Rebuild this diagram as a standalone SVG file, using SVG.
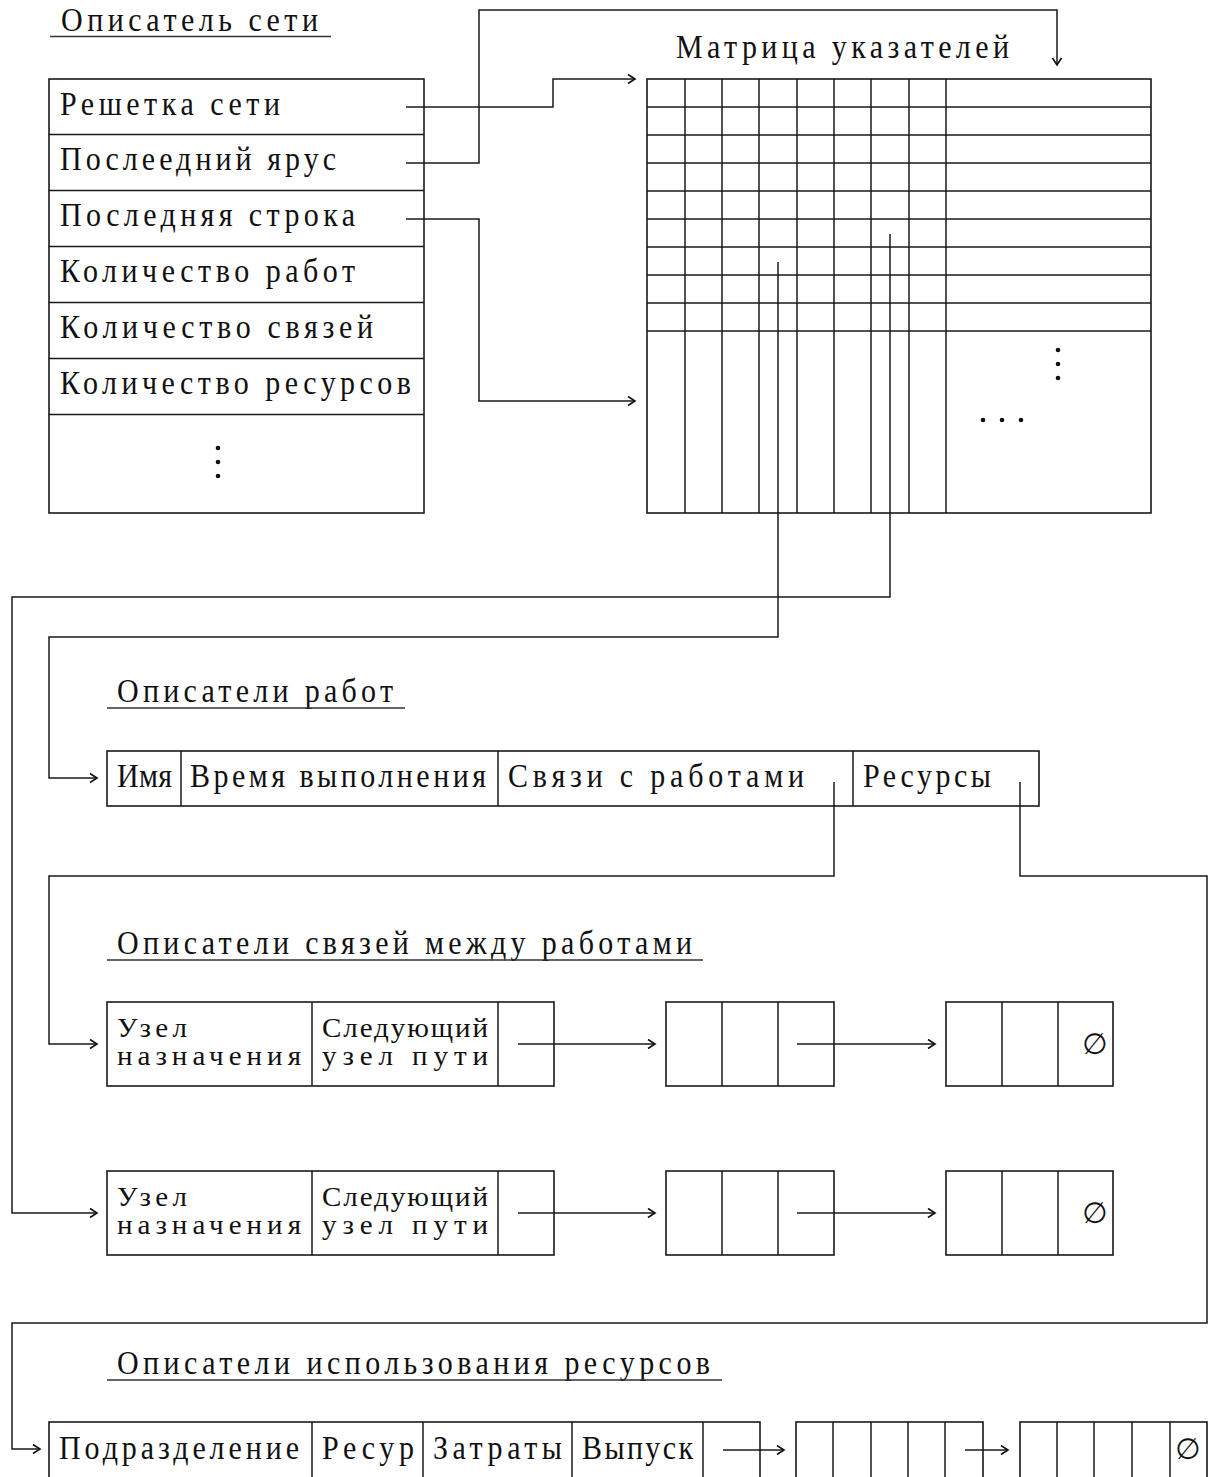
<svg xmlns="http://www.w3.org/2000/svg" width="1211" height="1477" viewBox="0 0 1211 1477">
<defs>
<style>
.t{font-family:"Liberation Serif","DejaVu Serif",serif;font-size:30px;fill:#111}
.s{font-family:"Liberation Serif","DejaVu Serif",serif;font-size:29px;fill:#111}
.b{fill:none;stroke:#1a1a1a;stroke-width:1.6}
.g{stroke:#1a1a1a;stroke-width:1.5;fill:none}
.u{stroke:#333;stroke-width:1.3}
.c{fill:none;stroke:#1a1a1a;stroke-width:1.5}
.d{fill:#111}
.n{font-family:"DejaVu Sans","Liberation Sans",sans-serif;font-size:29px;fill:#111;font-style:italic}
</style>
<marker id="ar" markerUnits="userSpaceOnUse" markerWidth="12" markerHeight="12" refX="9" refY="6" orient="auto">
<path d="M2,1.5 L9,6 L2,10.5" fill="none" stroke="#111" stroke-width="1.6"/>
</marker>
</defs>
<rect width="1211" height="1477" fill="#fff"/>

<g id="title-net">
<text class="t" transform="translate(61,31) scale(1,1.1)" textLength="257" lengthAdjust="spacing">Описатель сети</text>
<line class="u" x1="50" y1="36.5" x2="331" y2="36.5"/>
</g>

<g id="net-descriptor">
<rect class="b" x="49" y="79" width="375" height="434"/>
<path class="g" d="M49,134.5H424M49,190.5H424M49,246.5H424M49,302.5H424M49,358.5H424M49,414.5H424"/>
<text class="t" transform="translate(60,115) scale(1,1.1)" textLength="220" lengthAdjust="spacing">Решетка сети</text>
<text class="t" transform="translate(60,170) scale(1,1.1)" textLength="276" lengthAdjust="spacing">Послеедний ярус</text>
<text class="t" transform="translate(60,226) scale(1,1.1)" textLength="295" lengthAdjust="spacing">Последняя строка</text>
<text class="t" transform="translate(60,282) scale(1,1.1)" textLength="295" lengthAdjust="spacing">Количество работ</text>
<text class="t" transform="translate(60,338) scale(1,1.1)" textLength="313" lengthAdjust="spacing">Количество связей</text>
<text class="t" transform="translate(60,394) scale(1,1.1)" textLength="351" lengthAdjust="spacing">Количество ресурсов</text>
<circle class="d" cx="218" cy="448" r="2.3"/>
<circle class="d" cx="218" cy="462" r="2.3"/>
<circle class="d" cx="218" cy="476" r="2.3"/>
</g>

<g id="pointer-matrix">
<text class="t" transform="translate(676,58) scale(1,1.1)" textLength="333" lengthAdjust="spacing">Матрица указателей</text>
<rect class="b" x="647" y="79" width="504" height="434"/>
<path class="g" d="M647,107H1151M647,135H1151M647,163H1151M647,191H1151M647,219H1151M647,247H1151M647,275H1151M647,303H1151M647,331H1151"/>
<path class="g" d="M685,79V513M722,79V513M759,79V513M797,79V513M834,79V513M871,79V513M909,79V513M946,79V513"/>
<circle class="d" cx="1058" cy="350" r="2.3"/>
<circle class="d" cx="1058" cy="364" r="2.3"/>
<circle class="d" cx="1058" cy="378" r="2.3"/>
<circle class="d" cx="983" cy="420" r="2.3"/>
<circle class="d" cx="1002" cy="420" r="2.3"/>
<circle class="d" cx="1021" cy="420" r="2.3"/>
</g>

<g id="title-jobs">
<text class="t" transform="translate(117,702) scale(1,1.1)" textLength="276" lengthAdjust="spacing">Описатели работ</text>
<line class="u" x1="107" y1="708" x2="405" y2="708"/>
</g>

<g id="job-descriptor">
<rect class="b" x="107" y="751" width="932" height="55"/>
<path class="g" d="M181,751V806M498,751V806M853,751V806"/>
<text class="t" transform="translate(117,787) scale(1,1.1)" textLength="55" lengthAdjust="spacing">Имя</text>
<text class="t" transform="translate(190,787) scale(1,1.1)" textLength="296" lengthAdjust="spacing">Время выполнения</text>
<text class="t" transform="translate(508,787) scale(1,1.1)" textLength="296" lengthAdjust="spacing">Связи с работами</text>
<text class="t" transform="translate(863,787) scale(1,1.1)" textLength="128" lengthAdjust="spacing">Ресурсы</text>
</g>

<g id="title-links">
<text class="t" transform="translate(117,954) scale(1,1.1)" textLength="575" lengthAdjust="spacing">Описатели связей между работами</text>
<line class="u" x1="107" y1="960" x2="703" y2="960"/>
</g>

<g id="link-1a">
<rect class="b" x="107" y="1002" width="447" height="84"/>
<path class="g" d="M312,1002V1086M498,1002V1086"/>
<text class="s" transform="translate(117,1037) scale(1,0.92)" textLength="70" lengthAdjust="spacing">Узел</text>
<text class="s" transform="translate(117,1065) scale(1,0.92)" textLength="184" lengthAdjust="spacing">назначения</text>
<text class="s" transform="translate(322,1037) scale(1,0.92)" textLength="166" lengthAdjust="spacing">Следующий</text>
<text class="s" transform="translate(322,1065) scale(1,0.92)" textLength="166" lengthAdjust="spacing">узел пути</text>
</g>
<g id="link-1b">
<rect class="b" x="666" y="1002" width="168" height="84"/>
<path class="g" d="M722,1002V1086M778,1002V1086"/>
</g>
<g id="link-1c">
<rect class="b" x="946" y="1002" width="167" height="84"/>
<path class="g" d="M1002,1002V1086M1058,1002V1086"/>
<text class="n" x="1095" y="1054" text-anchor="middle">∅</text>
</g>

<g id="link-2a">
<rect class="b" x="107" y="1171" width="447" height="84"/>
<path class="g" d="M312,1171V1255M498,1171V1255"/>
<text class="s" transform="translate(117,1206) scale(1,0.92)" textLength="70" lengthAdjust="spacing">Узел</text>
<text class="s" transform="translate(117,1234) scale(1,0.92)" textLength="184" lengthAdjust="spacing">назначения</text>
<text class="s" transform="translate(322,1206) scale(1,0.92)" textLength="166" lengthAdjust="spacing">Следующий</text>
<text class="s" transform="translate(322,1234) scale(1,0.92)" textLength="166" lengthAdjust="spacing">узел пути</text>
</g>
<g id="link-2b">
<rect class="b" x="666" y="1171" width="168" height="84"/>
<path class="g" d="M722,1171V1255M778,1171V1255"/>
</g>
<g id="link-2c">
<rect class="b" x="946" y="1171" width="167" height="84"/>
<path class="g" d="M1002,1171V1255M1058,1171V1255"/>
<text class="n" x="1095" y="1223" text-anchor="middle">∅</text>
</g>

<g id="title-resources">
<text class="t" transform="translate(117,1374) scale(1,1.1)" textLength="593" lengthAdjust="spacing">Описатели использования ресурсов</text>
<line class="u" x1="107" y1="1380" x2="722" y2="1380"/>
</g>

<g id="res-a">
<rect class="b" x="49" y="1422" width="711" height="90"/>
<path class="g" d="M312,1422V1477M423,1422V1477M572,1422V1477M703,1422V1477"/>
<text class="t" transform="translate(59,1459) scale(1,1.1)" textLength="240" lengthAdjust="spacing">Подразделение</text>
<text class="t" transform="translate(322,1459) scale(1,1.1)" textLength="92" lengthAdjust="spacing">Ресур</text>
<text class="t" transform="translate(433,1459) scale(1,1.1)" textLength="129" lengthAdjust="spacing">Затраты</text>
<text class="t" transform="translate(582,1459) scale(1,1.1)" textLength="111" lengthAdjust="spacing">Выпуск</text>
</g>
<g id="res-b">
<rect class="b" x="796" y="1422" width="187" height="90"/>
<path class="g" d="M833,1422V1477M871,1422V1477M908,1422V1477M945,1422V1477"/>
</g>
<g id="res-c">
<rect class="b" x="1020" y="1422" width="187" height="90"/>
<path class="g" d="M1057,1422V1477M1094,1422V1477M1132,1422V1477M1170,1422V1477"/>
<text class="n" x="1188" y="1459" text-anchor="middle">∅</text>
</g>

<g id="connectors">
<path class="c" d="M406,107H553V79H635" marker-end="url(#ar)"/>
<path class="c" d="M406,163H479V10H1057V65" marker-end="url(#ar)"/>
<path class="c" d="M406,219H479V401H635" marker-end="url(#ar)"/>
<path class="c" d="M778,262V637H49V778H97" marker-end="url(#ar)"/>
<path class="c" d="M890,234V597H12V1213H97" marker-end="url(#ar)"/>
<path class="c" d="M834,782V876H49V1044H97" marker-end="url(#ar)"/>
<path class="c" d="M1020,782V876H1207V1323H12V1449H40" marker-end="url(#ar)"/>
<path class="c" d="M518,1044H655" marker-end="url(#ar)"/>
<path class="c" d="M797,1044H935" marker-end="url(#ar)"/>
<path class="c" d="M518,1213H655" marker-end="url(#ar)"/>
<path class="c" d="M797,1213H935" marker-end="url(#ar)"/>
<path class="c" d="M723,1450H784" marker-end="url(#ar)"/>
<path class="c" d="M965,1450H1008" marker-end="url(#ar)"/>
</g>
</svg>
